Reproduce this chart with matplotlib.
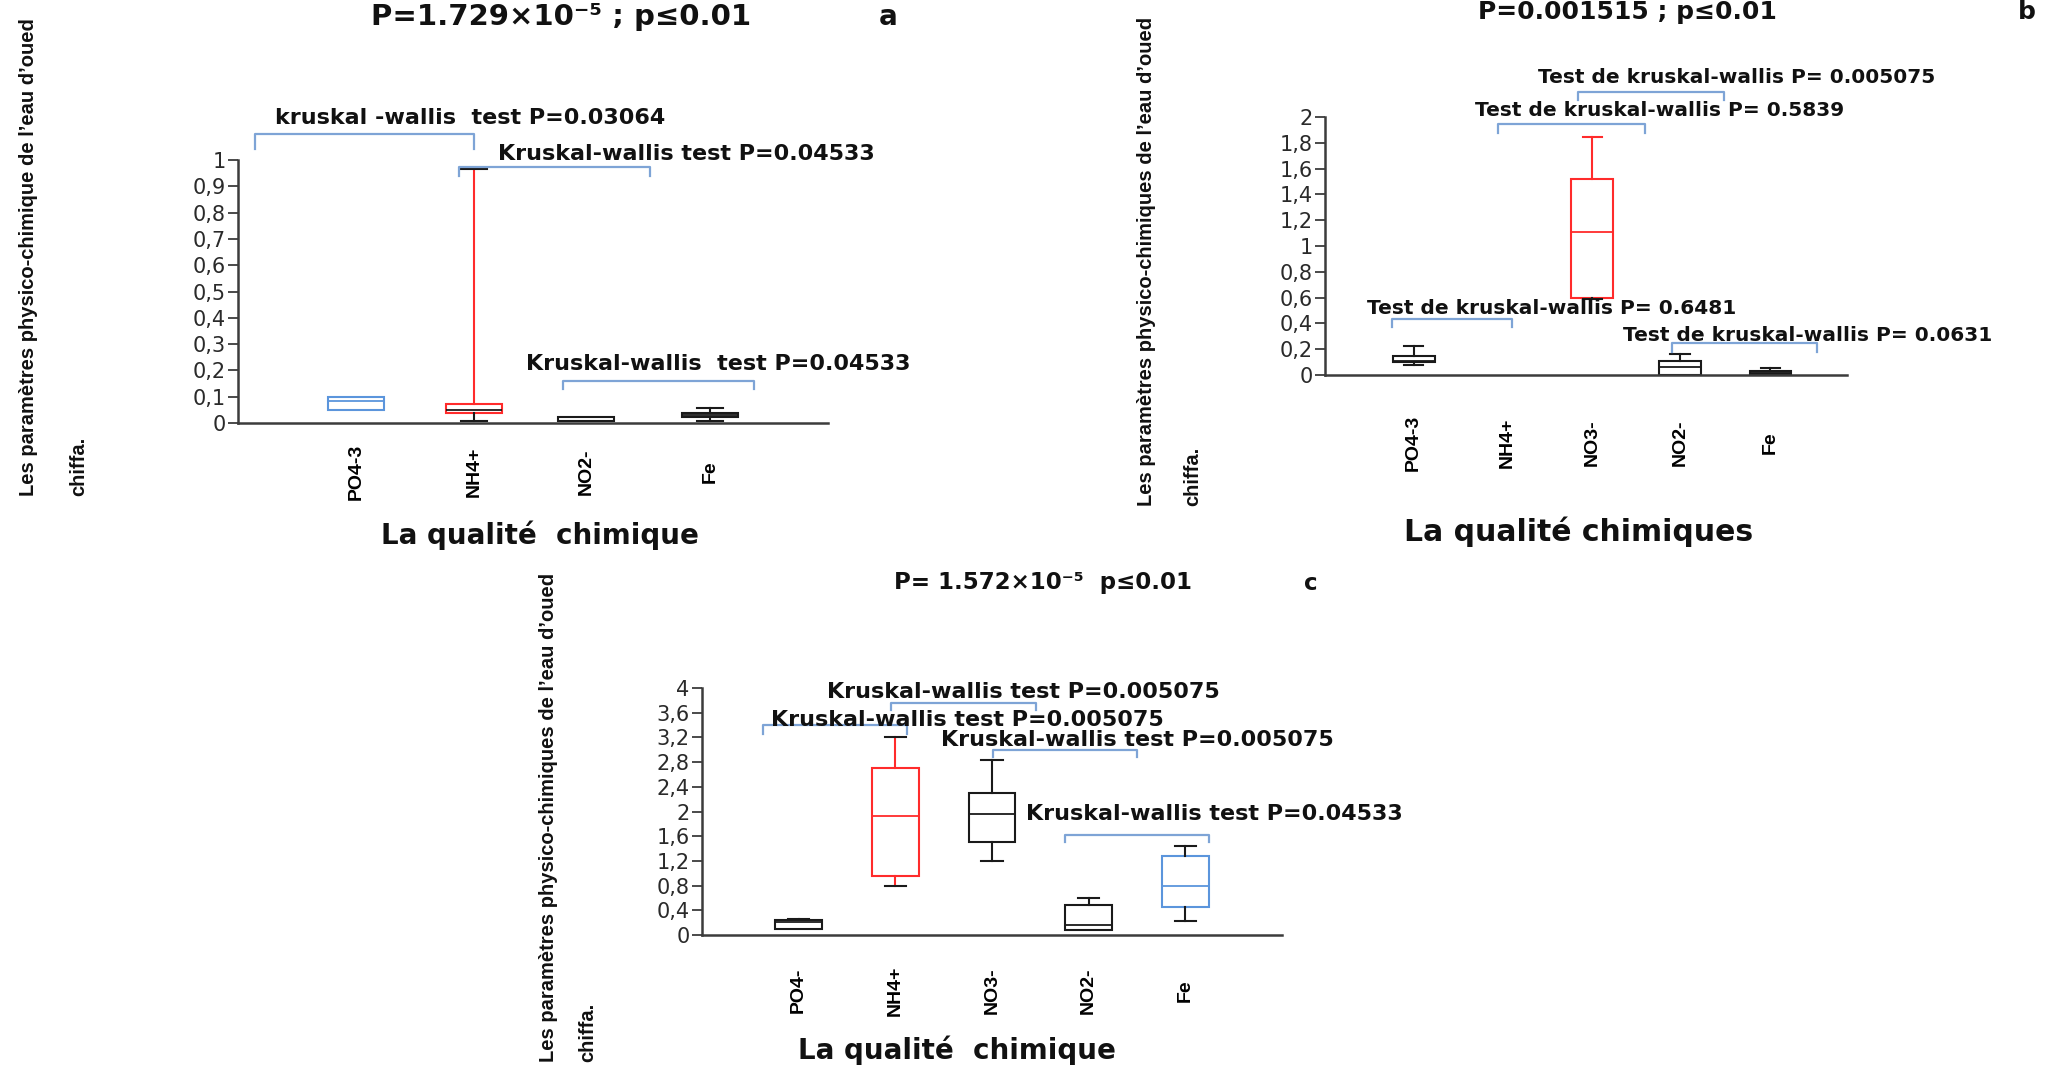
import matplotlib
matplotlib.use("Agg")
import matplotlib.pyplot as plt

W, H = 2060, 1066

# --- a : P=1.729e-5 ---
cat_a = ["PO4-3", "NH4+", "NO2-", "Fe"]
q1_a = [0.049, 0.037, 0.008, 0.022]
med_a = [0.083, 0.050, 0.008, 0.031]
q3_a = [0.100, 0.072, 0.022, 0.038]
min_a = [0.049, 0.008, 0.008, 0.008]
max_a = [0.100, 0.967, 0.022, 0.058]
tests_a = ["kruskal -wallis  test P=0.03064",
           "Kruskal-wallis test P=0.04533",
           "Kruskal-wallis  test P=0.04533"]

# --- b : P=0.001515 (pas de boite pour NH4+) ---
cat_b = ["PO4-3", "NH4+", "NO3-", "NO2-", "Fe"]
q1_b = [0.102, None, 0.596, 0.000, 0.008]
med_b = [0.110, None, 1.108, 0.061, 0.020]
q3_b = [0.144, None, 1.520, 0.108, 0.033]
min_b = [0.078, None, 0.587, 0.000, 0.008]
max_b = [0.227, None, 1.848, 0.166, 0.055]
tests_b = ["Test de kruskal-wallis P= 0.005075",
           "Test de kruskal-wallis P= 0.5839",
           "Test de kruskal-wallis P= 0.6481",
           "Test de kruskal-wallis P= 0.0631"]

# --- c : P=1.572e-5 ---
cat_c = ["PO4-", "NH4+", "NO3-", "NO2-", "Fe"]
q1_c = [0.095, 0.953, 1.510, 0.081, 0.449]
med_c = [0.210, 1.927, 1.960, 0.162, 0.800]
q3_c = [0.235, 2.706, 2.295, 0.482, 1.277]
min_c = [0.095, 0.800, 1.196, 0.081, 0.233]
max_c = [0.265, 3.210, 2.840, 0.595, 1.445]
tests_c = ["Kruskal-wallis test P=0.005075",
           "Kruskal-wallis test P=0.005075",
           "Kruskal-wallis test P=0.005075",
           "Kruskal-wallis test P=0.04533"]

ylab_1 = "Les paramètres physico-chimique de l’eau d’oued"
ylab_23 = "Les paramètres physico-chimiques de l’eau d’oued"

ROUGE = "#ff2b2b"
BLEU = "#5b95dc"
NOIR = "#1a1a1a"
CROCHET = "#7ea4d6"
AXE = "#3c3c3c"
ETROITE = "Liberation Sans"


def st(boite=NOIR, med=None, w_bas=NOIR, w_haut=NOIR, cap_bas=NOIR,
       cap_haut=NOIR, fond="none"):
    return dict(boite=boite, med=med or boite, w_bas=w_bas, w_haut=w_haut,
                cap_bas=cap_bas, cap_haut=cap_haut, fond=fond)


styles_a = [st(BLEU, w_bas=BLEU, w_haut=BLEU, cap_bas=BLEU, cap_haut=BLEU),
            st(ROUGE, med=NOIR, w_haut=ROUGE), st(), st()]
styles_b = [st(), None, st(ROUGE, w_haut=ROUGE, cap_haut=ROUGE), st(),
            st(fond="#8c8c8c")]
styles_c = [st(), st(ROUGE, w_bas=ROUGE, w_haut=ROUGE), st(), st(),
            st(BLEU)]

fig = plt.figure(figsize=(W / 100, H / 100), dpi=100)


def px(x, y):
    return x / W, 1 - y / H


def panneau(l, t, r, b, cats, pos, q1, med, q3, bas, haut, styles,
            xmax, ymax, pas, pad):
    ax = fig.add_axes([l / W, 1 - b / H, (r - l) / W, (b - t) / H])
    stats, p_ok, s_ok = [], [], []
    for p, a, m, c, lo, hi, s in zip(pos, q1, med, q3, bas, haut, styles):
        if m is None:
            continue
        stats.append(dict(q1=a, med=m, q3=c, whislo=lo, whishi=hi, fliers=[]))
        p_ok.append(p)
        s_ok.append(s)
    art = ax.bxp(stats, positions=p_ok, widths=0.48, capwidths=0.22,
                 patch_artist=True, showfliers=False, manage_ticks=False)
    for i, (d, s) in enumerate(zip(stats, s_ok)):
        boite = art["boxes"][i]
        boite.set_edgecolor(s["boite"])
        boite.set_facecolor(s["fond"])
        boite.set_linewidth(1.5)
        art["medians"][i].set_color(s["med"])
        art["medians"][i].set_linewidth(1.3)
        wb, wh = art["whiskers"][2 * i], art["whiskers"][2 * i + 1]
        cb, ch = art["caps"][2 * i], art["caps"][2 * i + 1]
        wb.set_color(s["w_bas"])
        wh.set_color(s["w_haut"])
        cb.set_color(s["cap_bas"])
        ch.set_color(s["cap_haut"])
        for w in (wb, wh, cb, ch):
            w.set_linewidth(1.5)
        if d["whislo"] >= d["q1"]:
            wb.set_visible(False)
            cb.set_visible(False)
        if d["whishi"] <= d["q3"]:
            wh.set_visible(False)
            ch.set_visible(False)

    ax.set_xlim(0, xmax)
    ax.set_ylim(0, ymax)
    n = round(ymax / pas)
    yt = [round(i * pas, 1) for i in range(n + 1)]
    ax.set_yticks(yt)
    ax.set_yticklabels([f"{v:g}".replace(".", ",") for v in yt],
                       fontsize=15, color="#2a2a2a")
    ax.set_xticks(pos)
    ax.set_xticklabels(cats, rotation=90, fontsize=14,
                       fontweight="bold", family=ETROITE)
    for lab in ax.get_xticklabels():
        lab.set_va("center")
    ax.tick_params(axis="x", length=0, pad=pad)
    ax.tick_params(axis="y", length=7, width=1.3, color=AXE, pad=2)
    for side in ("top", "right"):
        ax.spines[side].set_visible(False)
    for side in ("left", "bottom"):
        ax.spines[side].set_color(AXE)
        ax.spines[side].set_linewidth(1.8)
    ax.patch.set_alpha(0)
    return ax


def crochet(ax, x0, x1, y, pied, texte, tx, ty, taille=16):
    ax.plot([x0, x0, x1, x1], [pied, y, y, pied], color=CROCHET, lw=1.6,
            clip_on=False, solid_joinstyle="round")
    ax.text(tx, ty, texte, ha="center", va="center", fontsize=taille,
            fontweight="bold", color="#111111", clip_on=False)


# a
ax_a = panneau(238, 160, 828, 423, cat_a, [1, 2, 2.95, 4], q1_a, med_a,
               q3_a, min_a, max_a, styles_a, 5, 1, 0.1, 35)
crochet(ax_a, 0.14, 2.0, 1.10, 1.04, tests_a[0], 1.97, 1.16)
crochet(ax_a, 1.87, 3.49, 0.975, 0.94, tests_a[1], 3.80, 1.023)
crochet(ax_a, 2.75, 4.37, 0.158, 0.128, tests_a[2], 4.07, 0.223)

# b
ax_b = panneau(1325, 117, 1847, 375, cat_b, [1.02, 2.1, 3.07, 4.08, 5.12],
               q1_b, med_b, q3_b, min_b, max_b, styles_b, 6, 2, 0.2, 49)
crochet(ax_b, 2.91, 4.59, 2.197, 2.133, tests_b[0], 4.73, 2.31, 14.5)
crochet(ax_b, 1.99, 3.68, 1.947, 1.878, tests_b[1], 3.85, 2.05, 14.5)
crochet(ax_b, 0.775, 2.155, 0.435, 0.374, tests_b[2], 2.61, 0.515, 14.5)
crochet(ax_b, 3.99, 5.66, 0.249, 0.18, tests_b[3], 5.55, 0.305, 14.5)

# c
ax_c = panneau(702, 688, 1282, 935, cat_c, [1, 2, 3, 4, 5], q1_c, med_c,
               q3_c, min_c, max_c, styles_c, 6, 4, 0.4, 40)
crochet(ax_c, 1.96, 3.46, 3.756, 3.637, tests_c[0], 3.32, 3.93)
crochet(ax_c, 0.63, 2.12, 3.394, 3.258, tests_c[1], 2.75, 3.475)
crochet(ax_c, 3.01, 4.50, 3.004, 2.88, tests_c[2], 4.50, 3.16)
crochet(ax_c, 3.76, 5.24, 1.624, 1.50, tests_c[3], 5.30, 1.96)

# titres, lettres et legendes des axes
gras = dict(fontweight="bold", ha="center", va="center", color="#111111")
fig.text(*px(561, 17), "P=1.729×10⁻⁵ ; p≤0.01", fontsize=21, **gras)
fig.text(*px(888, 17), "a", fontsize=20, **gras)
fig.text(*px(1627, 12), "P=0.001515 ; p≤0.01", fontsize=18, **gras)
fig.text(*px(2027, 12), "b", fontsize=18, **gras)
fig.text(*px(1043, 583), "P= 1.572×10⁻⁵  p≤0.01", fontsize=16.5, **gras)
fig.text(*px(1311, 583), "c", fontsize=16.5, **gras)

fig.text(*px(540, 535), "La qualité  chimique", fontsize=20, **gras)
fig.text(*px(1579, 532), "La qualité chimiques", fontsize=21.5, **gras)
fig.text(*px(957, 1050), "La qualité  chimique", fontsize=20, **gras)

# legende verticale sur deux lignes, calees en bas
ylab = dict(rotation=90, ha="center", va="bottom", fontsize=14.5,
            fontweight="bold", family=ETROITE, color="#111111")
for x1, x2, y, txt in [(29, 79, 496, ylab_1), (1147, 1193, 506, ylab_23),
                       (549, 588, 1062, ylab_23)]:
    fig.text(*px(x1, y), txt, **ylab)
    fig.text(*px(x2, y), "chiffa.", **ylab)

fig.savefig("out.png", dpi=100, facecolor="white")
